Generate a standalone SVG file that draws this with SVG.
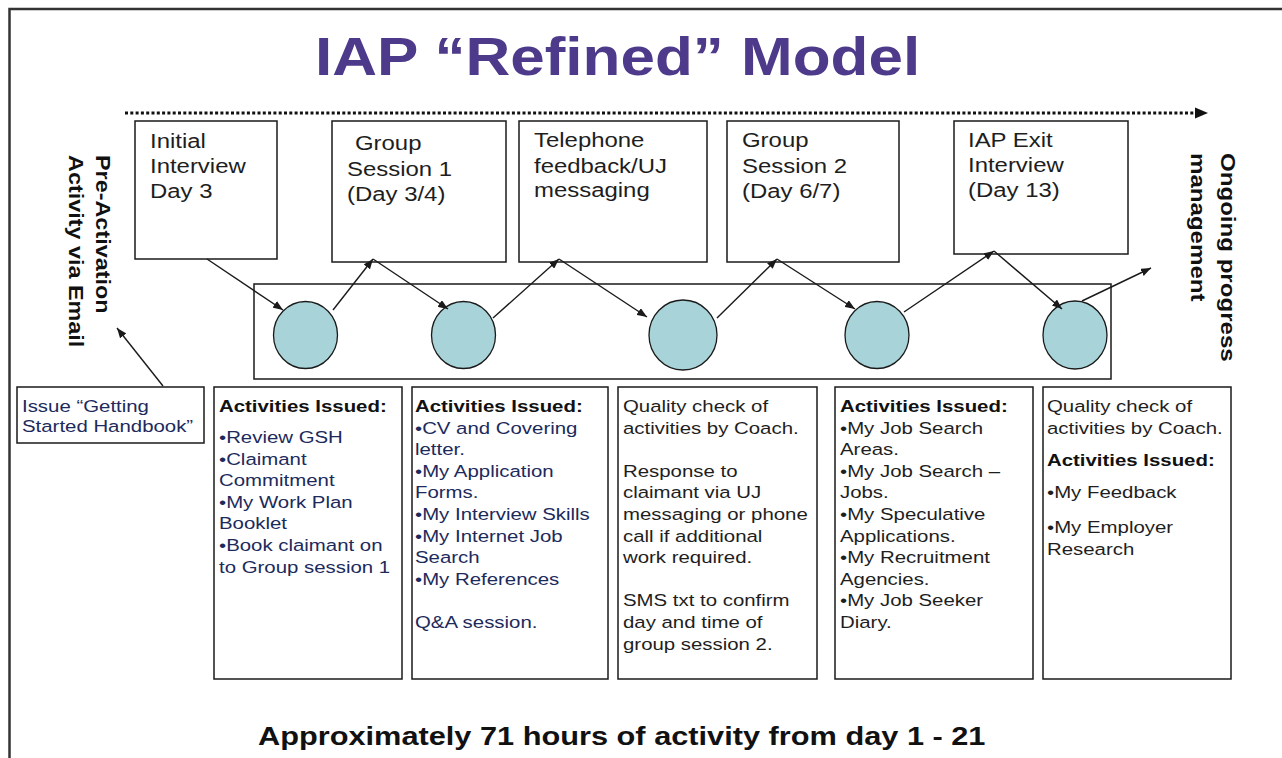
<svg xmlns="http://www.w3.org/2000/svg" width="1282" height="758" viewBox="0 0 1282 758">
<style>
text{font-family:"Liberation Sans",Arial,sans-serif;fill:#1e1e1e}
.title{font-size:53px;font-weight:bold;fill:#4E3A8A}
.tb{font-size:21px}
.rot{font-size:20px;font-weight:bold;fill:#111}
.bx{font-size:17px}
.nv{fill:#1c2a5c}
.hd{font-weight:bold;fill:#111}
.foot{font-size:26.5px;font-weight:bold;fill:#111}
.box{fill:#fff;stroke:#1a1a1a;stroke-width:1.5}
.circ{fill:#A8D4D9;stroke:#1a1a1a;stroke-width:1.3}
.con{stroke:#1a1a1a;stroke-width:1.4;fill:none;marker-end:url(#ah)}
</style>
<defs>
<marker id="ah" markerUnits="userSpaceOnUse" markerWidth="11" markerHeight="8" refX="10" refY="4" orient="auto">
<path d="M0,0 L10,4 L0,8 z" fill="#1a1a1a"/>
</marker>
</defs>
<rect x="0" y="0" width="1282" height="758" fill="#fff"/>
<g id="frame">
<path d="M9.5,758 L9.5,9 L1282,9" fill="none" stroke="#333" stroke-width="2.5"/>
</g>
<g id="title">
<text class="title" transform="translate(315,75) scale(1.17,1)">IAP “Refined” Model</text>
</g>
<g id="timeline">
<line x1="125" y1="113" x2="1196" y2="113" stroke="#111" stroke-width="3" stroke-dasharray="3 2.3"/>
<path d="M1195,107.5 L1208,113 L1195,118.5 z" fill="#111"/>
</g>
<g id="pre-activation">
<text class="rot" transform="translate(96,155) rotate(90) scale(1.17,1)">Pre-Activation</text>
<text class="rot" transform="translate(69,155) rotate(90) scale(1.17,1)">Activity via Email</text>
</g>
<g id="ongoing">
<text class="rot" style="font-size:20.5px" transform="translate(1221,153) rotate(90) scale(1.175,1)">Ongoing progress</text>
<text class="rot" style="font-size:20.5px" transform="translate(1191,153) rotate(90) scale(1.175,1)">management</text>
</g>
<g id="initial-interview">
<rect class="box" x="135" y="121" width="142" height="138"/>
<text class="tb" transform="translate(150,0) scale(1.14,1)"><tspan x="0" y="148">Initial</tspan><tspan x="0" y="173">Interview</tspan><tspan x="0" y="198">Day 3</tspan></text>
</g>
<g id="group-session-1">
<rect class="box" x="332" y="121" width="174" height="141"/>
<text class="tb" transform="translate(347,0) scale(1.14,1)"><tspan x="7" y="150">Group</tspan><tspan x="0" y="176">Session 1</tspan><tspan x="0" y="201">(Day 3/4)</tspan></text>
</g>
<g id="telephone">
<rect class="box" x="519" y="121" width="188" height="141"/>
<text class="tb" transform="translate(534,0) scale(1.14,1)"><tspan x="0" y="147">Telephone</tspan><tspan x="0" y="173">feedback/UJ</tspan><tspan x="0" y="197">messaging</tspan></text>
</g>
<g id="group-session-2">
<rect class="box" x="727" y="121" width="172" height="141"/>
<text class="tb" transform="translate(742,0) scale(1.14,1)"><tspan x="0" y="147">Group</tspan><tspan x="0" y="173">Session 2</tspan><tspan x="0" y="198">(Day 6/7)</tspan></text>
</g>
<g id="exit-interview">
<rect class="box" x="954" y="121" width="174" height="133"/>
<text class="tb" transform="translate(968,0) scale(1.14,1)"><tspan x="0" y="147">IAP Exit</tspan><tspan x="0" y="172">Interview</tspan><tspan x="0" y="197">(Day 13)</tspan></text>
</g>
<g id="stages">
<rect class="box" x="254" y="284" width="857" height="95"/>
</g>
<g id="stage-1"><ellipse class="circ" cx="305.5" cy="335" rx="32" ry="33.5"/></g>
<g id="stage-2"><ellipse class="circ" cx="463.5" cy="335" rx="32" ry="33.5"/></g>
<g id="stage-3"><ellipse class="circ" cx="683" cy="335" rx="34" ry="35"/></g>
<g id="stage-4"><ellipse class="circ" cx="877" cy="335" rx="32" ry="33.5"/></g>
<g id="stage-5"><ellipse class="circ" cx="1075" cy="335" rx="32" ry="34"/></g>
<g id="connectors">
<line class="con" x1="207" y1="259" x2="283" y2="310"/>
<line class="con" x1="333" y1="310" x2="373" y2="259"/>
<line class="con" x1="373" y1="259" x2="448" y2="309"/>
<line class="con" x1="493" y1="318" x2="559" y2="259"/>
<line class="con" x1="559" y1="259" x2="647" y2="317"/>
<line class="con" x1="717" y1="318" x2="777" y2="259"/>
<line class="con" x1="777" y1="259" x2="855" y2="309"/>
<line class="con" x1="904" y1="312" x2="994" y2="251"/>
<line class="con" x1="994" y1="251" x2="1062" y2="309"/>
<line class="con" x1="1082" y1="301" x2="1151" y2="268"/>
<line class="con" x1="163" y1="386" x2="117" y2="328"/>
</g>
<g id="handbook">
<rect class="box" x="17" y="387" width="187" height="56"/>
<text class="bx nv" transform="translate(22,0) scale(1.2,1)"><tspan x="0" y="412">Issue “Getting</tspan><tspan x="0" y="432.5">Started Handbook”</tspan></text>
</g>
<g id="activities-1">
<rect class="box" x="214" y="387" width="188" height="292"/>
<text class="bx" transform="translate(219,0) scale(1.2,1)"><tspan class="hd" x="0" y="412">Activities Issued:</tspan><tspan class="nv" x="0" y="443">•Review GSH</tspan><tspan class="nv" x="0" y="464.6">•Claimant</tspan><tspan class="nv" x="0" y="486.2">Commitment</tspan><tspan class="nv" x="0" y="507.8">•My Work Plan</tspan><tspan class="nv" x="0" y="529.4">Booklet</tspan><tspan class="nv" x="0" y="551">•Book claimant on</tspan><tspan class="nv" x="0" y="572.6">to Group session 1</tspan></text>
</g>
<g id="activities-2">
<rect class="box" x="412" y="387" width="196" height="292"/>
<text class="bx" transform="translate(415,0) scale(1.2,1)"><tspan class="hd" x="0" y="412">Activities Issued:</tspan><tspan class="nv" x="0" y="433.6">•CV and Covering</tspan><tspan class="nv" x="0" y="455.2">letter.</tspan><tspan class="nv" x="0" y="476.8">•My Application</tspan><tspan class="nv" x="0" y="498.4">Forms.</tspan><tspan class="nv" x="0" y="520">•My Interview Skills</tspan><tspan class="nv" x="0" y="541.6">•My Internet Job</tspan><tspan class="nv" x="0" y="563.2">Search</tspan><tspan class="nv" x="0" y="584.8">•My References</tspan><tspan class="nv" x="0" y="628">Q&amp;A session.</tspan></text>
</g>
<g id="quality-check-1">
<rect class="box" x="618" y="387" width="199" height="292"/>
<text class="bx" transform="translate(623,0) scale(1.2,1)"><tspan x="0" y="412">Quality check of</tspan><tspan x="0" y="433.6">activities by Coach.</tspan><tspan x="0" y="476.8">Response to</tspan><tspan x="0" y="498.4">claimant via UJ</tspan><tspan x="0" y="520">messaging or phone</tspan><tspan x="0" y="541.6">call if additional</tspan><tspan x="0" y="563.2">work required.</tspan><tspan x="0" y="606.4">SMS txt to confirm</tspan><tspan x="0" y="628">day and time of</tspan><tspan x="0" y="649.6">group session 2.</tspan></text>
</g>
<g id="activities-3">
<rect class="box" x="835" y="387" width="198" height="292"/>
<text class="bx" transform="translate(840,0) scale(1.2,1)"><tspan class="hd" x="0" y="412">Activities Issued:</tspan><tspan x="0" y="433.6">•My Job Search</tspan><tspan x="0" y="455.2">Areas.</tspan><tspan x="0" y="476.8">•My Job Search –</tspan><tspan x="0" y="498.4">Jobs.</tspan><tspan x="0" y="520">•My Speculative</tspan><tspan x="0" y="541.6">Applications.</tspan><tspan x="0" y="563.2">•My Recruitment</tspan><tspan x="0" y="584.8">Agencies.</tspan><tspan x="0" y="606.4">•My Job Seeker</tspan><tspan x="0" y="628">Diary.</tspan></text>
</g>
<g id="quality-check-2">
<rect class="box" x="1043" y="387" width="188" height="292"/>
<text class="bx" transform="translate(1047,0) scale(1.2,1)"><tspan x="0" y="412">Quality check of</tspan><tspan x="0" y="433.6">activities by Coach.</tspan><tspan class="hd" x="0" y="466">Activities Issued:</tspan><tspan x="0" y="498.5">•My Feedback</tspan><tspan x="0" y="533">•My Employer</tspan><tspan x="0" y="554.6">Research</tspan></text>
</g>
<g id="footer">
<text class="foot" transform="translate(258,745) scale(1.16,1)">Approximately 71 hours of activity from day 1 - 21</text>
</g>
</svg>
